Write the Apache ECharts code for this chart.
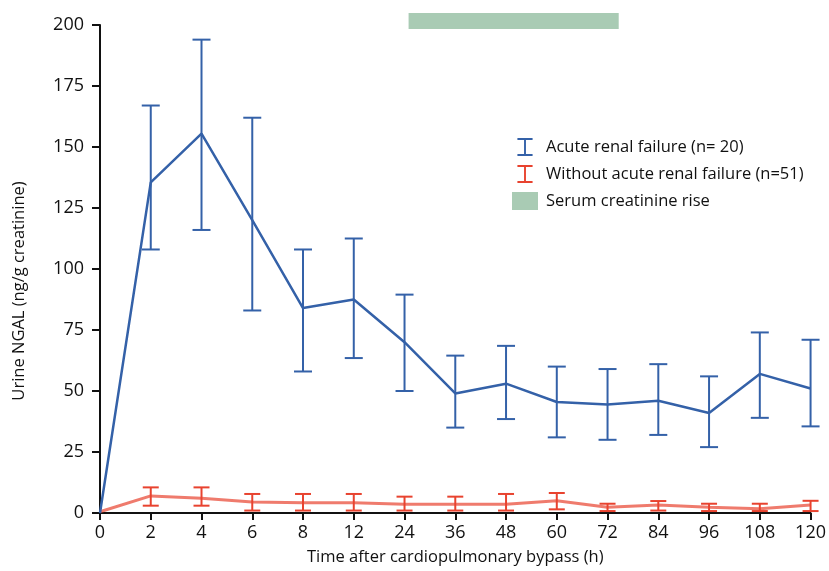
<!DOCTYPE html>
<html>
<head>
<meta charset="utf-8">
<script src="https://cdn.jsdelivr.net/npm/echarts@6/dist/echarts.min.js"></script>
<style>
  html, body { margin: 0; padding: 0; background: #fff; }
</style>
</head>
<body>
<div id="chart" style="width: 829px; height: 571px;"></div>
<script>
// time points (h)
const hours = ['0', '2', '4', '6', '8', '12', '24', '36', '48', '60', '72', '84', '96', '108', '120'];

// acute renal failure (n=20): mean, upper, lower
const arfMean  = [0, 135.5, 155.5, 120, 84, 87.5, 70, 49, 53, 45.5, 44.5, 46, 41, 57, 51];
const arfHigh  = [0, 167, 194, 162, 108, 112.5, 89.5, 64.5, 68.5, 60, 59, 61, 56, 74, 71];
const arfLow   = [0, 108, 116, 83, 58, 63.5, 50, 35, 38.5, 31, 30, 32, 27, 39, 35.5];

// without acute renal failure (n=51)
const noMean = [0.5, 7, 6, 4.5, 4.2, 4.2, 3.6, 3.6, 3.6, 5, 2.4, 3.3, 2.4, 1.7, 3.3];
const noHigh = [0.5, 10.5, 10.5, 7.8, 7.8, 7.8, 6.7, 6.7, 7.8, 8.2, 3.8, 4.9, 3.8, 3.8, 5];
const noLow  = [0.5, 3, 3, 1, 1, 1, 1, 1, 1, 1.5, 0.8, 1, 0.8, 0.8, 0.8];

// serum creatinine rise band (category index from/to, y from/to)
const serumRise = [[6.08, 10.22, 198.4, 204.9]];

const blue = '#3461a8';
const red = '#e8432f';
const green = '#a9cbb4';
const font = 'Open Sans';
const ink = '#111';

function errorData(high, low) {
  return high.map((h, i) => [i, low[i], h]);
}

function errorBar(color, cap, width) {
  return function (params, api) {
    const lo = api.coord([api.value(0), api.value(1)]);
    const hi = api.coord([api.value(0), api.value(2)]);
    if (Math.abs(lo[1] - hi[1]) < 0.5) return null;
    const style = { stroke: color, lineWidth: width };
    return {
      type: 'group',
      children: [
        { type: 'line', shape: { x1: hi[0], y1: hi[1], x2: lo[0], y2: lo[1] }, style: style },
        { type: 'line', shape: { x1: hi[0] - cap, y1: hi[1], x2: hi[0] + cap, y2: hi[1] }, style: style },
        { type: 'line', shape: { x1: lo[0] - cap, y1: lo[1], x2: lo[0] + cap, y2: lo[1] }, style: style }
      ]
    };
  };
}

// category axis coords snap to whole indexes, so add the fraction by hand
function catX(api, v) {
  const i = Math.floor(v);
  const step = api.size([1, 0])[0];
  return api.coord([i, 0])[0] + (v - i) * step;
}

const iBeam = 'path://M0,0H16V2H9V17H16V19H0V17H7V2H0Z';

let mcharts = echarts.init(document.getElementById('chart'));

let option = {
  animation: false,
  textStyle: { fontFamily: font },
  grid: { left: 100, right: 16, top: 25, bottom: 58 },
  legend: {
    left: 507,
    top: 133,
    orient: 'vertical',
    itemWidth: 26,
    itemHeight: 18,
    itemGap: 9,
    itemStyle: { borderWidth: 0 },
    textStyle: { fontSize: 16.5, color: ink, fontFamily: font, padding: [0, 0, 0, 3] },
    data: [
      { name: 'Acute renal failure (n= 20)', icon: iBeam },
      { name: 'Without acute renal failure (n=51)', icon: iBeam },
      { name: 'Serum creatinine rise', icon: 'rect' }
    ]
  },
  xAxis: {
    type: 'category',
    data: hours,
    boundaryGap: false,
    name: 'Time after cardiopulmonary bypass (h)',
    nameLocation: 'middle',
    nameGap: 36,
    nameTextStyle: { fontSize: 16.5, color: ink },
    axisLine: { lineStyle: { color: ink, width: 2 } },
    axisTick: { length: 7, lineStyle: { color: ink, width: 2 } },
    axisLabel: { fontSize: 18, color: ink, margin: 11 }
  },
  yAxis: {
    type: 'value',
    min: 0,
    max: 200,
    interval: 25,
    name: 'Urine NGAL (ng/g creatinine)',
    nameLocation: 'middle',
    nameGap: 72,
    nameTextStyle: { fontSize: 16.5, color: ink, padding: [0, 44, 0, 0] },
    splitLine: { show: false },
    axisLine: { show: true, lineStyle: { color: ink, width: 2 } },
    axisTick: { show: true, length: 8, lineStyle: { color: ink, width: 2 } },
    axisLabel: { fontSize: 18, color: ink, margin: 16 }
  },
  series: [
    {
      name: 'Serum creatinine rise',
      type: 'custom',
      color: green,
      itemStyle: { color: green },
      clip: false,
      renderItem: function (params, api) {
        const x0 = catX(api, api.value(0));
        const x1 = catX(api, api.value(1));
        const yTop = api.coord([0, api.value(3)])[1];
        const yBot = api.coord([0, api.value(2)])[1];
        return {
          type: 'rect',
          shape: { x: x0, y: yTop, width: x1 - x0, height: yBot - yTop },
          style: { fill: green }
        };
      },
      data: serumRise
    },
    {
      name: 'Without acute renal failure (n=51)',
      type: 'line',
      color: red,
      data: noMean,
      symbol: 'none',
      lineStyle: { color: red, width: 3, opacity: 0.7 },
      z: 3
    },
    {
      name: 'Without acute renal failure (n=51)',
      type: 'custom',
      color: red,
      itemStyle: { color: red },
      renderItem: errorBar(red, 8, 2),
      data: errorData(noHigh, noLow),
      z: 4
    },
    {
      name: 'Acute renal failure (n= 20)',
      type: 'line',
      color: blue,
      data: arfMean,
      symbol: 'none',
      lineStyle: { color: blue, width: 2.5 },
      z: 5
    },
    {
      name: 'Acute renal failure (n= 20)',
      type: 'custom',
      color: blue,
      itemStyle: { color: blue },
      renderItem: errorBar(blue, 9, 2),
      data: errorData(arfHigh, arfLow),
      z: 6
    }
  ]
};

mcharts.setOption(option);
</script>
</body>
</html>
